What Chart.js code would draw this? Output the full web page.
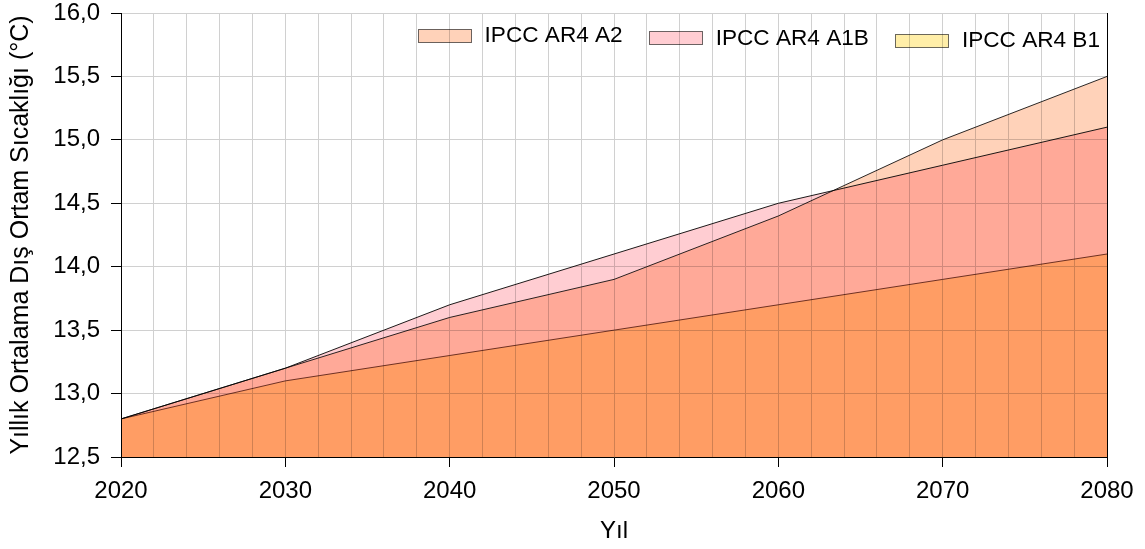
<!DOCTYPE html>
<html>
<head>
<meta charset="utf-8">
<script src="https://cdn.jsdelivr.net/npm/chart.js@4.4.1/dist/chart.umd.min.js"></script>
<style>
  html, body { margin: 0; padding: 0; background: #ffffff; }
  canvas { display: block; }
</style>
</head>
<body>
<canvas id="chart" width="1145" height="549"></canvas>
<script>
// Projected yearly mean outdoor temperature per IPCC AR4 scenario
const years = [2020, 2030, 2040, 2050, 2060, 2070, 2080];
const seriesNames = ['IPCC AR4 A2', 'IPCC AR4 A1B', 'IPCC AR4 B1'];
const a2Values  = [12.8, 13.2, 13.6, 13.9, 14.4, 15.0, 15.5];
const a1bValues = [12.8, 13.2, 13.7, 14.1, 14.5, 14.8, 15.1];
const b1Values  = [12.8, 13.1, 13.3, 13.5, 13.7, 13.9, 14.1];
const yTickMin = 12.5, yTickMax = 16.0, yTickStep = 0.5;
const xTickMin = 2020, xTickMax = 2080, xLabelStep = 10, xGridStep = 2;
const xTitle = 'Yıl';
const yTitle = 'Yıllık Ortalama Dış Ortam Sıcaklığı (°C)';

const FONT = '"Liberation Sans", Arial, Helvetica, sans-serif';
const TICK_SIZE = 24;
const LEGEND_SIZE = 22.6;
const TITLE_SIZE = 25;

const toPoints = (vals) => years.map((y, i) => ({ x: y, y: vals[i] }));

// White page background
const background = {
  id: 'background',
  beforeDraw(chart) {
    const ctx = chart.ctx;
    ctx.save();
    ctx.fillStyle = '#ffffff';
    ctx.fillRect(0, 0, chart.width, chart.height);
    ctx.restore();
  }
};

// Overlapping areas are combined by multiplying their colours; the legend
// sits inside the plot, drawn in the same blend so the grid shows through.
const blendAndLegend = {
  id: 'blendAndLegend',
  beforeDatasetsDraw(chart) {
    chart.ctx.save();
    chart.ctx.globalCompositeOperation = 'multiply';
  },
  afterDatasetsDraw(chart, args, opts) {
    const ctx = chart.ctx;
    const area = chart.chartArea;
    ctx.font = LEGEND_SIZE + 'px ' + FONT;
    ctx.textBaseline = 'middle';
    ctx.textAlign = 'left';
    const sets = chart.data.datasets;
    const widths = sets.map(d => ctx.measureText(d.label).width);
    let total = 0;
    widths.forEach((w, i) => {
      total += opts.boxWidth + opts.textGap + w + (i < widths.length - 1 ? opts.itemGap : 0);
    });
    let x = area.right - opts.rightInset - total;
    sets.forEach((d, i) => {
      const cy = area.top + opts.firstCenter + i * opts.stagger;
      const by = Math.round(cy - opts.boxHeight / 2) + 0.5;
      const bx = Math.round(x) + 0.5;
      ctx.fillStyle = d.backgroundColor;
      ctx.fillRect(bx, by, opts.boxWidth, opts.boxHeight);
      ctx.lineWidth = 1;
      ctx.strokeStyle = opts.boxBorder;
      ctx.strokeRect(bx, by, opts.boxWidth, opts.boxHeight);
      ctx.fillStyle = '#000000';
      ctx.fillText(d.label, x + opts.boxWidth + opts.textGap, cy + 1);
      x += opts.boxWidth + opts.textGap + widths[i] + opts.itemGap;
    });
    ctx.restore();
  }
};

new Chart(document.getElementById('chart'), {
  type: 'line',
  data: {
    datasets: [
      {
        label: seriesNames[0],
        data: toPoints(a2Values),
        backgroundColor: 'rgb(255, 210, 185)',
        borderColor: '#2a2a2a',
        borderWidth: 1,
        fill: 'start'
      },
      {
        label: seriesNames[1],
        data: toPoints(a1bValues),
        backgroundColor: 'rgb(255, 205, 210)',
        borderColor: '#1c1c1c',
        borderWidth: 1,
        fill: 'start'
      },
      {
        label: seriesNames[2],
        data: toPoints(b1Values),
        backgroundColor: 'rgb(255, 238, 168)',
        borderColor: '#6e4a40',
        borderWidth: 1,
        fill: 'start'
      }
    ]
  },
  options: {
    responsive: false,
    animation: false,
    devicePixelRatio: 1,
    layout: { padding: { top: 13, right: 38, bottom: 0, left: 0 } },
    elements: {
      point: { radius: 0, hoverRadius: 0 },
      line: { tension: 0 }
    },
    plugins: {
      legend: { display: false },
      tooltip: { enabled: false },
      blendAndLegend: {
        boxWidth: 53,
        boxHeight: 13,
        textGap: 14,
        itemGap: 26,
        rightInset: 7,
        firstCenter: 22,
        stagger: 2.5,
        boxBorder: '#6b6b6b'
      }
    },
    scales: {
      x: {
        type: 'linear',
        min: xTickMin,
        max: xTickMax,
        afterFit(scale) {
          scale.height = 92;
          scale.paddingLeft = 0;
          scale.paddingRight = 0;
        },
        border: { display: true, color: '#000000', width: 1 },
        grid: {
          drawTicks: true,
          tickLength: 10,
          lineWidth: 1,
          color: (c) => (c.tick && c.tick.value === xTickMax) ? '#000000' : '#d0d0d0',
          tickColor: (c) => (c.tick && c.tick.value % xLabelStep === 0) ? '#000000' : 'rgba(0,0,0,0)'
        },
        ticks: {
          stepSize: xGridStep,
          autoSkip: false,
          maxRotation: 0,
          padding: 10,
          color: '#000000',
          font: { family: FONT, size: TICK_SIZE },
          callback: (v) => (v % xLabelStep === 0 ? String(v) : '')
        },
        title: {
          display: true,
          text: xTitle,
          color: '#000000',
          font: { family: FONT, size: TICK_SIZE },
          padding: { top: 0, bottom: 3 }
        }
      },
      y: {
        type: 'linear',
        min: yTickMin,
        max: yTickMax,
        afterFit(scale) {
          scale.width = 121;
          scale.paddingTop = 0;
          scale.paddingBottom = 0;
        },
        border: { display: true, color: '#000000', width: 1 },
        grid: {
          drawTicks: true,
          tickLength: 10,
          lineWidth: 1,
          color: '#d0d0d0',
          tickColor: '#000000'
        },
        ticks: {
          stepSize: yTickStep,
          padding: 11,
          color: '#000000',
          font: { family: FONT, size: TICK_SIZE },
          callback: (v) => Number(v).toFixed(1).replace('.', ',')
        },
        title: {
          display: true,
          text: yTitle,
          color: '#000000',
          font: { family: FONT, size: TITLE_SIZE },
          padding: { top: 6, bottom: 0 }
        }
      }
    }
  },
  plugins: [background, blendAndLegend]
});
</script>
</body>
</html>
